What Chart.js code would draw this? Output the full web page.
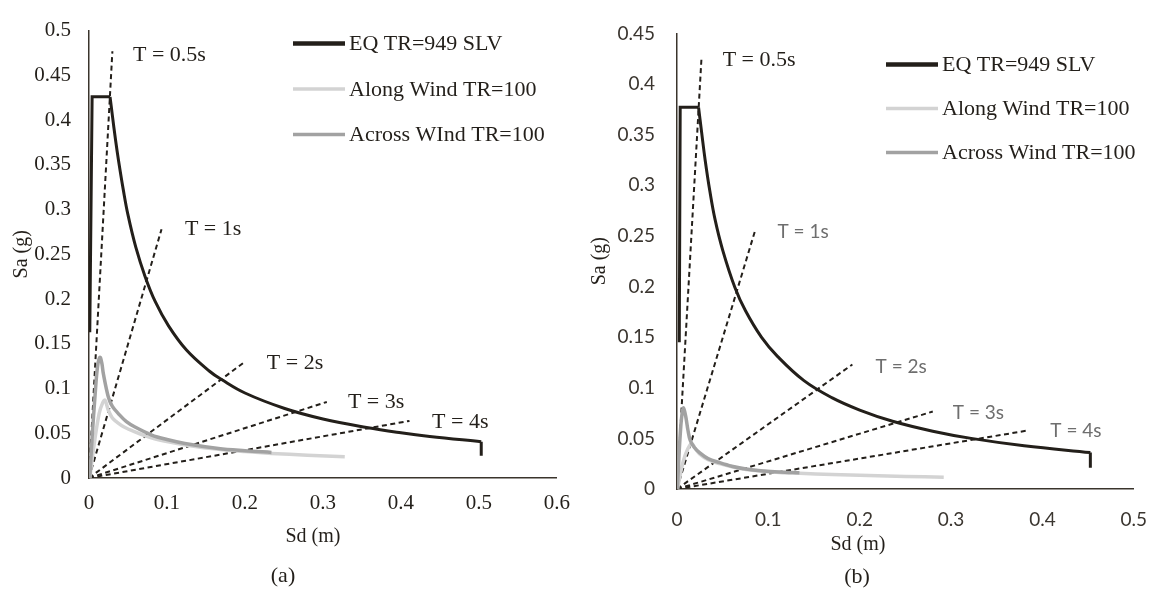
<!DOCTYPE html>
<html>
<head>
<meta charset="utf-8">
<script src="https://cdn.jsdelivr.net/npm/chart.js@4.4.0/dist/chart.umd.min.js"></script>
<style>
    html, body { margin: 0; padding: 0; background: #fff; }
    #page { position: relative; width: 1166px; height: 596px; overflow: hidden; }
    .panel { position: absolute; top: 0; width: 583px; height: 596px; }
    #panelA { left: 0; }
    #panelB { left: 583px; }
</style>
</head>
<body>
<div id="page">
    <div class="panel" id="panelA"><canvas id="chartA" width="583" height="596"></canvas></div>
    <div class="panel" id="panelB"><canvas id="chartB" width="583" height="596"></canvas></div>
</div>
<script>
// ---- panel (a) ----
const seriesNamesA = ['EQ TR=949 SLV', 'Along Wind TR=100', 'Across WInd TR=100'];

const eqSdA = [0.001, 0.004, 0.027, 0.030, 0.034, 0.038, 0.044, 0.050, 0.060, 0.072, 0.085, 0.102, 0.125, 0.155, 0.170, 0.200, 0.250, 0.300, 0.356, 0.400, 0.437, 0.503, 0.503];
const eqSaA = [0.163, 0.426, 0.426, 0.405, 0.378, 0.354, 0.322, 0.294, 0.258, 0.225, 0.197, 0.170, 0.143, 0.119, 0.110, 0.095, 0.078, 0.066, 0.0565, 0.0506, 0.0465, 0.0406, 0.025];

const alongSdA = [0.001, 0.007, 0.013, 0.0175, 0.0205, 0.0248, 0.030, 0.0355, 0.045, 0.059, 0.080, 0.1017, 0.130, 0.166, 0.200, 0.234, 0.280, 0.328];
const alongSaA = [0.000, 0.040, 0.072, 0.084, 0.087, 0.0757, 0.067, 0.0627, 0.057, 0.0516, 0.045, 0.0405, 0.036, 0.032, 0.0295, 0.0275, 0.0255, 0.0237];

const acrossSdA = [0.001, 0.004, 0.008, 0.011, 0.0141, 0.0165, 0.0184, 0.0248, 0.030, 0.0376, 0.048, 0.059, 0.0804, 0.100, 0.123, 0.166, 0.200, 0.234];
const acrossSaA = [0.000, 0.045, 0.095, 0.125, 0.135, 0.128, 0.1166, 0.0906, 0.080, 0.072, 0.063, 0.057, 0.048, 0.043, 0.0386, 0.033, 0.0305, 0.0286];

// end points of the constant-period lines (they all start at the origin)
const periodEndSdA = [0.030, 0.093, 0.200, 0.305, 0.411];
const periodEndSaA = [0.477, 0.278, 0.130, 0.085, 0.0638];

// ---- panel (b) ----
const seriesNamesB = ['EQ TR=949 SLV', 'Along Wind TR=100', 'Across Wind TR=100'];

const eqSdB = [0.0025, 0.0035, 0.0236, 0.0270, 0.0308, 0.036, 0.0417, 0.050, 0.0634, 0.075, 0.0924, 0.110, 0.139, 0.170, 0.200, 0.236, 0.280, 0.322, 0.380, 0.4525, 0.4525];
const eqSaB = [0.145, 0.377, 0.377, 0.352, 0.325, 0.294, 0.266, 0.236, 0.199, 0.176, 0.150, 0.131, 0.107, 0.090, 0.078, 0.0669, 0.0571, 0.050, 0.0427, 0.036, 0.021];

const alongSdB = [0.0005, 0.0069, 0.012, 0.016, 0.020, 0.025, 0.034, 0.0467, 0.060, 0.0757, 0.095, 0.112, 0.134, 0.170, 0.210, 0.250, 0.292];
const alongSaB = [0.000, 0.0276, 0.040, 0.045, 0.040, 0.0345, 0.029, 0.025, 0.022, 0.0193, 0.0175, 0.0163, 0.0155, 0.0143, 0.0133, 0.0124, 0.0117];

const acrossSdB = [0.0005, 0.002, 0.004, 0.0058, 0.0072, 0.0095, 0.0120, 0.0145, 0.019, 0.025, 0.034, 0.0467, 0.060, 0.0757, 0.095, 0.112, 0.134];
const acrossSaB = [0.000, 0.030, 0.060, 0.076, 0.080, 0.072, 0.058, 0.048, 0.041, 0.0356, 0.030, 0.026, 0.0225, 0.0197, 0.0178, 0.0168, 0.016];

const periodEndSdB = [0.0268, 0.0859, 0.192, 0.280, 0.3855];
const periodEndSaB = [0.4255, 0.2564, 0.123, 0.0765, 0.058];

const periodLabels = ['T = 0.5s', 'T = 1s', 'T = 2s', 'T = 3s', 'T = 4s'];

const EQ_COLOR = '#231f1a';
const ALONG_COLOR = '#d3d3d3';
const ACROSS_COLOR = '#a2a2a2';
const AXIS_COLOR = '#3a342c';

const SERIF = '"Liberation Serif", "Times New Roman", serif';
const SANS = 'Lato, "Open Sans", sans-serif';

function pts(sd, sa) {
    return sd.map((x, i) => ({ x: x, y: sa[i] }));
}

function buildDatasets(names, eq, along, across, endSd, endSa) {
    const eqPts = pts(eq[0], eq[1]);
    const n = eqPts.length;
    const sets = [
        // smooth decaying branch carries the legend entry
        { label: names[0], data: eqPts.slice(2, n - 1), borderColor: EQ_COLOR, borderWidth: 3, tension: 0.4, order: 0, inLegend: true, legendWidth: 4.5 },
        { label: names[1], data: pts(along[0], along[1]), borderColor: ALONG_COLOR, borderWidth: 3.5, tension: 0.35, order: 2, inLegend: true, legendWidth: 3.5 },
        { label: names[2], data: pts(across[0], across[1]), borderColor: ACROSS_COLOR, borderWidth: 3.5, tension: 0.35, order: 1, inLegend: true, legendWidth: 3.5 },
        // sharp corners of the same EQ spectrum: rise + plateau, and the end drop
        { label: names[0], data: eqPts.slice(0, 3), borderColor: EQ_COLOR, borderWidth: 3, tension: 0, order: 0 },
        { label: names[0], data: eqPts.slice(n - 2), borderColor: EQ_COLOR, borderWidth: 3, tension: 0, order: 0 }
    ];
    endSd.forEach((x, i) => {
        sets.push({
            label: periodLabels[i],
            data: [{ x: 0, y: 0 }, { x: x, y: endSa[i] }],
            borderColor: EQ_COLOR,
            borderWidth: 2,
            borderDash: [5, 3.5],
            tension: 0,
            order: 3
        });
    });
    sets.forEach(s => {
        s.showLine = true;
        s.pointRadius = 0;
        s.pointHoverRadius = 0;
        s.fill = false;
        s.borderCapStyle = 'butt';
        s.borderJoinStyle = 'miter';
    });
    return sets;
}

const decor = {
    id: 'decor',
    afterDatasetsDraw(chart, args, o) {
        const ctx = chart.ctx;
        const area = chart.chartArea;
        const xs = chart.scales.x;
        const ys = chart.scales.y;
        ctx.save();
        ctx.textAlign = 'left';
        ctx.textBaseline = 'middle';

        // period labels
        periodLabels.forEach((txt, i) => {
            ctx.font = o.periodFonts[i];
            ctx.fillStyle = o.periodColors[i];
            ctx.fillText(txt, xs.getPixelForValue(o.periodAt[i][0]), ys.getPixelForValue(o.periodAt[i][1]));
        });

        // legend
        const items = chart.data.datasets.filter(d => d.inLegend);
        items.forEach((d, i) => {
            const y = area.top + o.legendTop + i * o.legendGap;
            const x0 = area.left + o.legendLeft;
            ctx.beginPath();
            ctx.strokeStyle = d.borderColor;
            ctx.lineWidth = d.legendWidth;
            ctx.moveTo(x0, y);
            ctx.lineTo(x0 + 52, y);
            ctx.stroke();
            ctx.font = '22px ' + SERIF;
            ctx.fillStyle = EQ_COLOR;
            ctx.fillText(d.label, x0 + 56, y + 1);
        });

        // axis titles and panel tag
        ctx.font = '20px ' + SERIF;
        ctx.fillStyle = EQ_COLOR;
        ctx.textAlign = 'center';
        ctx.fillText('Sd (m)', area.left + o.xTitleDx, area.bottom + o.xTitleDy);
        ctx.font = '22px ' + SERIF;
        ctx.fillText(o.tag, area.left + o.tagDx, area.bottom + o.tagDy);
        ctx.save();
        ctx.translate(area.left - o.yTitleDx, (area.top + area.bottom) / 2);
        ctx.rotate(-Math.PI / 2);
        ctx.font = '20px ' + SERIF;
        ctx.fillText('Sa (g)', 0, 0);
        ctx.restore();

        ctx.restore();
    }
};

function makeChart(id, cfg) {
    return new Chart(document.getElementById(id), {
        type: 'scatter',
        data: { datasets: cfg.datasets },
        options: {
            responsive: false,
            animation: false,
            devicePixelRatio: 1,
            layout: { autoPadding: false, padding: { top: cfg.top, right: cfg.right, left: 0, bottom: 0 } },
            plugins: {
                legend: { display: false },
                tooltip: { enabled: false },
                decor: cfg.decor
            },
            scales: {
                x: {
                    type: 'linear',
                    min: 0, max: cfg.xMax,
                    grid: { display: false, drawTicks: false },
                    border: { display: true, color: AXIS_COLOR, width: 1.5 },
                    ticks: {
                        stepSize: 0.1,
                        padding: cfg.xPad,
                        color: cfg.tickColor,
                        font: cfg.tickFont,
                        callback: v => String(parseFloat(v.toFixed(2)))
                    },
                    afterFit: s => { s.height = 596 - cfg.bottom; }
                },
                y: {
                    type: 'linear',
                    min: 0, max: cfg.yMax,
                    grid: { display: false, drawTicks: false },
                    border: { display: true, color: AXIS_COLOR, width: 1.5 },
                    ticks: {
                        stepSize: 0.05,
                        padding: cfg.yPad,
                        color: cfg.tickColor,
                        font: cfg.tickFont,
                        callback: v => String(parseFloat(v.toFixed(2)))
                    },
                    afterFit: s => { s.width = cfg.left; }
                }
            }
        },
        plugins: [decor]
    });
}

makeChart('chartA', {
    datasets: buildDatasets(seriesNamesA, [eqSdA, eqSaA], [alongSdA, alongSaA], [acrossSdA, acrossSaA], periodEndSdA, periodEndSaA),
    left: 89, top: 29, right: 25, bottom: 478,
    xMax: 0.6, yMax: 0.5,
    xPad: 13, yPad: 18,
    tickColor: EQ_COLOR,
    tickFont: { family: SERIF, size: 21 },
    decor: {
        periodAt: [[0.0564, 0.473], [0.123, 0.278], [0.228, 0.128], [0.332, 0.0846], [0.440, 0.0624]],
        periodFonts: Array(5).fill('22px ' + SERIF),
        periodColors: Array(5).fill(EQ_COLOR),
        legendLeft: 204, legendTop: 13, legendGap: 45.5,
        xTitleDx: 224, xTitleDy: 59, tagDx: 194, tagDy: 98, yTitleDx: 67, tag: '(a)'
    }
});

makeChart('chartB', {
    datasets: buildDatasets(seriesNamesB, [eqSdB, eqSaB], [alongSdB, alongSaB], [acrossSdB, acrossSaB], periodEndSdB, periodEndSaB),
    left: 94, top: 17, right: 26, bottom: 489,
    xMax: 0.5, yMax: 0.45,
    xPad: 19, yPad: 22,
    tickColor: '#3b3630',
    tickFont: { family: SANS, size: 19 },
    decor: {
        periodAt: [[0.050, 0.424], [0.110, 0.2536], [0.2174, 0.121], [0.302, 0.0753], [0.4087, 0.0572]],
        periodFonts: ['22px ' + SERIF, '19px ' + SANS, '19px ' + SANS, '19px ' + SANS, '19px ' + SANS],
        periodColors: [EQ_COLOR, '#6e6e6e', '#6e6e6e', '#6e6e6e', '#6e6e6e'],
        legendLeft: 209, legendTop: 31, legendGap: 44,
        xTitleDx: 181, xTitleDy: 56, tagDx: 180, tagDy: 88, yTitleDx: 77, tag: '(b)'
    }
});
</script>
</body>
</html>
